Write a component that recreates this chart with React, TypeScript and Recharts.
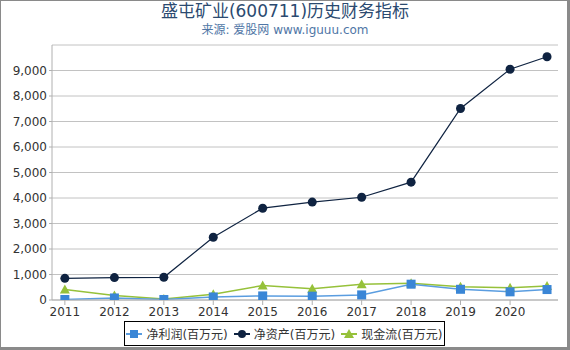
import { LineChart, Line, XAxis, YAxis, CartesianGrid } from 'recharts'

// report dates (last one is Q3 of 2021)
const periods = [
  '2011-12-31', '2012-12-31', '2013-12-31', '2014-12-31', '2015-12-31', '2016-12-31',
  '2017-12-31', '2018-12-31', '2019-12-31', '2020-12-31', '2021-09-30',
]
const netProfit = [20, 80, 20, 120, 160, 150, 200, 620, 420, 320, 410]
const netAssets = [850, 880, 890, 2460, 3600, 3840, 4030, 4620, 7510, 9050, 9540]
const cashFlow = [410, 180, 40, 230, 570, 440, 620, 660, 520, 480, 550]
const yTicks = [0, 1000, 2000, 3000, 4000, 5000, 6000, 7000, 8000, 9000]
const xTickDates = periods.slice(0, 10)

const seriesNames = ['净利润(百万元)', '净资产(百万元)', '现金流(百万元)']
const colors = { profit: '#3a86d6', profitLine: '#5a9de0', assets: '#0f2341', cash: '#96c13a' }

const DAY = 86400000
const data = periods.map((p, i) => ({
  t: Date.parse(p),
  profit: netProfit[i],
  assets: netAssets[i],
  cash: cashFlow[i],
}))

const FONT = '"DejaVu Sans", "Noto Sans CJK SC", sans-serif'

const SquareDot = (props: any) => {
  const { cx, cy, index } = props
  return <rect key={`s${index}`} x={cx - 4.5} y={cy - 4.5} width={9} height={9} fill={colors.profit} />
}

const CircleDot = (props: any) => {
  const { cx, cy, index } = props
  return <circle key={`c${index}`} cx={cx} cy={cy} r={4.5} fill={colors.assets} />
}

const TriangleDot = (props: any) => {
  const { cx, cy, index } = props
  return (
    <path
      key={`t${index}`}
      d={`M${cx},${cy - 5} L${cx + 5},${cy + 4} L${cx - 5},${cy + 4} Z`}
      fill={colors.cash}
    />
  )
}

function LegendIcon({ kind }: { kind: number }) {
  const c = kind === 0 ? colors.profit : kind === 1 ? colors.assets : colors.cash
  return (
    <svg width={16} height={12} style={{ marginRight: 4, flex: 'none' }}>
      <line x1={0} y1={6} x2={16} y2={6} stroke={kind === 0 ? colors.profitLine : c} strokeWidth={2} />
      {kind === 0 && <rect x={4} y={2} width={8} height={8} fill={c} />}
      {kind === 1 && <circle cx={8} cy={6} r={4} fill={c} />}
      {kind === 2 && <path d="M8,1 L13,10 L3,10 Z" fill={c} />}
    </svg>
  )
}

function LegendBox() {
  return (
    <div
      style={{
        position: 'absolute',
        left: 124,
        top: 321,
        width: 321,
        height: 25,
        display: 'flex',
        alignItems: 'center',
        justifyContent: 'center',
        border: '1.5px solid #000',
        boxSizing: 'border-box',
        fontFamily: FONT,
        fontSize: 12,
        color: '#333',
        background: '#fff',
        whiteSpace: 'nowrap',
      }}
    >
      {seriesNames.map((n, i) => (
        <span key={n} style={{ display: 'flex', alignItems: 'center', marginRight: i < 2 ? 6 : 0 }}>
          <LegendIcon kind={i} />
          {n}
        </span>
      ))}
    </div>
  )
}

export default function App() {
  return (
    <div
      style={{
        position: 'absolute',
        left: 0,
        top: 0,
        width: 570,
        height: 350,
        boxSizing: 'border-box',
        borderLeft: '1px solid #8a8a8a',
        borderTop: '1px solid #8a8a8a',
        borderRight: '3px solid #8a8a8a',
        borderBottom: '3px solid #8a8a8a',
        background: '#fff',
        overflow: 'hidden',
      }}
    >
      <div style={{ position: 'absolute', left: -1, top: -1 }}>
        <LineChart width={570} height={350} data={data} margin={{ top: 45, right: 12, bottom: 30, left: 0 }}>
          <CartesianGrid vertical={false} stroke="#c2c2c2" strokeWidth={1} />
          <XAxis
            dataKey="t"
            type="number"
            scale="time"
            domain={[data[0].t - 95 * DAY, data[data.length - 1].t + 81 * DAY]}
            ticks={xTickDates.map((d) => Date.parse(d))}
            tickFormatter={(v: number) => String(new Date(v).getUTCFullYear())}
            allowDataOverflow
            height={20}
            tick={{ fontSize: 12, fill: '#333', fontFamily: FONT }}
            tickSize={5}
            tickMargin={2}
            stroke="#b0b0b0"
          />
          <YAxis
            domain={[0, 10000]}
            ticks={yTicks}
            width={52}
            tickFormatter={(v: number) => v.toLocaleString('en-US')}
            tick={{ fontSize: 12, fill: '#333', fontFamily: FONT }}
            tickSize={3}
            tickMargin={2}
            stroke="#b0b0b0"
            allowDataOverflow
          />
          <Line
            dataKey="cash"
            name={seriesNames[2]}
            stroke={colors.cash}
            strokeWidth={1.5}
            dot={TriangleDot}
            activeDot={false}
            isAnimationActive={false}
          />
          <Line
            dataKey="profit"
            name={seriesNames[0]}
            stroke={colors.profitLine}
            strokeWidth={1.5}
            dot={SquareDot}
            activeDot={false}
            isAnimationActive={false}
          />
          <Line
            dataKey="assets"
            name={seriesNames[1]}
            stroke={colors.assets}
            strokeWidth={1.2}
            dot={CircleDot}
            activeDot={false}
            isAnimationActive={false}
          />
        </LineChart>
      </div>
      <div
        style={{
          position: 'absolute',
          left: -1,
          top: -1,
          width: 570,
          textAlign: 'center',
          fontFamily: FONT,
        }}
      >
        <div style={{ fontSize: 17, color: '#2b4a70', lineHeight: '20px', marginTop: 1 }}>
          盛屯矿业(600711)历史财务指标
        </div>
        <div style={{ fontSize: 12, color: '#4f76a6', lineHeight: '16px', marginTop: 1 }}>
          来源: 爱股网 www.iguuu.com
        </div>
      </div>
      <div style={{ position: 'absolute', left: -1, top: -1 }}>
        <LegendBox />
      </div>
    </div>
  )
}
